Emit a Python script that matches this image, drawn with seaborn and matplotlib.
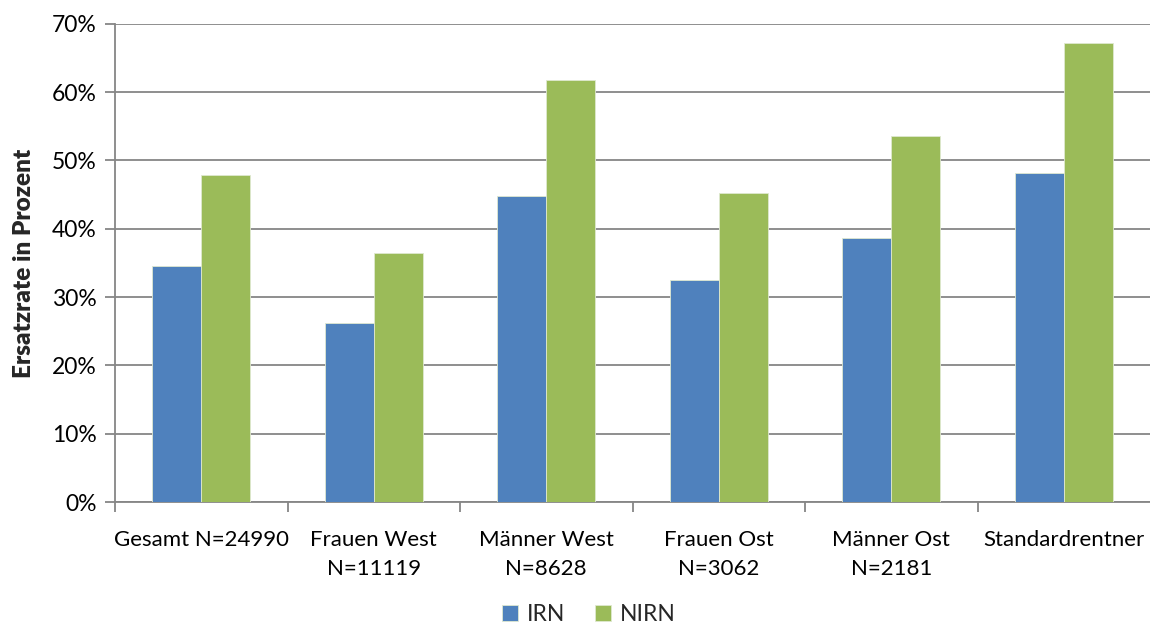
import numpy as np
import pandas as pd
import matplotlib
matplotlib.use("Agg")
import matplotlib.pyplot as plt
import seaborn as sns
from matplotlib.ticker import FixedLocator, PercentFormatter

# Ersatzraten je Gruppe (in Prozent)
categories = ["Gesamt N=24990", "Frauen West\nN=11119", "Männer West\nN=8628",
              "Frauen Ost\nN=3062", "Männer Ost\nN=2181", "Standardrentner"]
irn = [34.5, 26.2, 44.8, 32.5, 38.6, 48.2]
nirn = [47.9, 36.5, 61.8, 45.3, 53.6, 67.2]
series = ["IRN", "NIRN"]
y_ticks = [0, 10, 20, 30, 40, 50, 60, 70]

df = pd.DataFrame({
    "Gruppe": categories * 2,
    "Reihe": [series[0]] * len(categories) + [series[1]] * len(categories),
    "Wert": irn + nirn,
})

sns.set_theme(style="white")
plt.rcParams["font.family"] = ["Lato", "DejaVu Sans"]

grid_col = "#868686"
fig = plt.figure(figsize=(11.5, 6.26), dpi=100)
ax = fig.add_axes([0.1, 0.198, 0.9, 0.764])

sns.barplot(data=df, x="Gruppe", y="Wert", hue="Reihe", order=categories,
            hue_order=series, palette=["#4F81BD", "#9BBB59"], width=0.57,
            gap=0, saturation=1, edgecolor="#dfe8d0", linewidth=0.6,
            ax=ax, legend=True, zorder=3)

ax.set_xlim(-0.5, len(categories) - 0.5)
ax.set_ylim(0, 70)
ax.yaxis.set_major_locator(FixedLocator(y_ticks))
ax.yaxis.set_major_formatter(PercentFormatter(decimals=0))
ax.yaxis.grid(True, color=grid_col, linewidth=1.3, zorder=0)
ax.set_axisbelow(True)

for side in ["top", "right"]:
    ax.spines[side].set_visible(False)
for side in ["left", "bottom"]:
    ax.spines[side].set_color(grid_col)
    ax.spines[side].set_linewidth(1.3)

# category separators as tick marks below the x axis
ax.xaxis.set_minor_locator(FixedLocator(np.arange(-0.5, len(categories) - 1, 1.0)))
ax.tick_params(axis="x", which="minor", length=7, width=1.3, color=grid_col, bottom=True)
ax.tick_params(axis="x", which="major", length=0, pad=20, labelsize=16, colors="#000000")
ax.tick_params(axis="y", which="major", length=7, width=1.3, color=grid_col, left=True,
               pad=6, labelsize=16.5, colors="#000000")
for lbl in ax.get_xticklabels():
    lbl.set_linespacing(1.55)

ax.set_xlabel("")
ax.set_ylabel("Ersatzrate in Prozent", fontsize=17.5, fontweight="heavy", labelpad=12)

handles, labels = ax.get_legend_handles_labels()
ax.get_legend().remove()
fig.legend(handles, labels, loc="center", bbox_to_anchor=(0.512, 0.019), ncol=2,
           frameon=False, fontsize=16.5, handlelength=0.7, handleheight=0.7,
           handletextpad=0.4, columnspacing=1.3, borderpad=0)

fig.savefig("out.png", dpi=100)
